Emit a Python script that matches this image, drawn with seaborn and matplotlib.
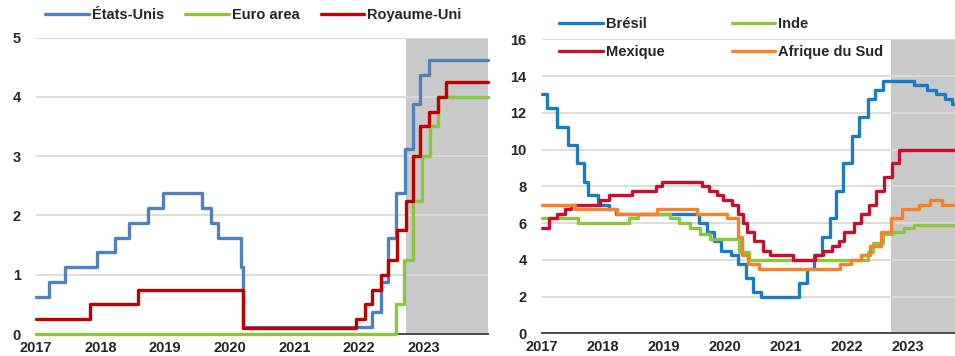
import matplotlib
matplotlib.use("Agg")
import matplotlib.pyplot as plt
import matplotlib.dates as mdates
from matplotlib.lines import Line2D
import pandas as pd
import seaborn as sns

# ---------------------------------------------------------------- data
# Policy rates (%), given as (date of change, new level); each level holds
# until the next change.
us_dates = ["2017-01-01", "2017-03-15", "2017-06-14", "2017-12-13", "2018-03-21",
            "2018-06-13", "2018-09-26", "2018-12-19", "2019-07-31", "2019-09-18",
            "2019-10-30", "2020-03-03", "2020-03-16", "2022-03-16", "2022-05-04",
            "2022-06-15", "2022-07-27", "2022-09-21", "2022-11-02", "2022-12-14",
            "2023-02-01"]
us_rates = [0.625, 0.875, 1.125, 1.375, 1.625, 1.875, 2.125, 2.375, 2.125, 1.875,
            1.625, 1.125, 0.125, 0.375, 0.875, 1.625, 2.375, 3.125, 3.875, 4.375,
            4.625]

ea_dates = ["2017-01-01", "2022-07-27", "2022-09-14", "2022-11-02", "2022-12-21",
            "2023-02-08", "2023-03-22"]
ea_rates = [0.0, 0.5, 1.25, 2.25, 3.0, 3.5, 4.0]

uk_dates = ["2017-01-01", "2017-11-02", "2018-08-02", "2020-03-15", "2021-12-16",
            "2022-02-03", "2022-03-17", "2022-05-05", "2022-06-16", "2022-08-04",
            "2022-09-22", "2022-11-03", "2022-12-15", "2023-02-02", "2023-03-23",
            "2023-05-11"]
uk_rates = [0.25, 0.5, 0.75, 0.1, 0.25, 0.5, 0.75, 1.0, 1.25, 1.75, 2.25, 3.0, 3.5,
            3.75, 4.0, 4.25]

br_dates = ["2017-01-01", "2017-02-01", "2017-04-01", "2017-06-05", "2017-08-01",
            "2017-09-10", "2017-10-05", "2017-12-01", "2018-02-07", "2018-03-21",
            "2019-07-31", "2019-09-18", "2019-10-30", "2019-12-11", "2020-02-05",
            "2020-03-18", "2020-05-06", "2020-06-17", "2020-08-05", "2021-03-17",
            "2021-05-05", "2021-06-16", "2021-08-04", "2021-09-22", "2021-10-27",
            "2021-12-08", "2022-02-02", "2022-03-16", "2022-05-04", "2022-06-15",
            "2022-08-03", "2023-02-03", "2023-04-22", "2023-06-20", "2023-08-10",
            "2023-09-20"]
br_rates = [13.0, 12.25, 11.25, 10.25, 9.25, 8.25, 7.5, 7.0, 6.75, 6.5,
            6.0, 5.5, 5.0, 4.5, 4.25, 3.75, 3.0, 2.25, 2.0, 2.75,
            3.5, 4.25, 5.25, 6.25, 7.75, 9.25, 10.75, 11.75, 12.75, 13.25,
            13.75, 13.5, 13.25, 13.0, 12.75, 12.5]

in_dates = ["2017-01-01", "2017-08-02", "2018-06-06", "2018-08-01", "2019-02-07",
            "2019-04-04", "2019-06-06", "2019-08-07", "2019-10-04", "2020-03-27",
            "2020-05-22", "2022-05-04", "2022-06-08", "2022-08-05", "2022-09-30",
            "2022-12-07", "2023-02-08"]
in_rates = [6.25, 6.0, 6.25, 6.5, 6.25, 6.0, 5.75, 5.4, 5.15, 4.4, 4.0, 4.4, 4.9,
            5.4, 5.5, 5.75, 5.9]

mx_dates = ["2017-01-01", "2017-02-09", "2017-03-30", "2017-05-18", "2017-06-22",
            "2017-12-14", "2018-02-08", "2018-06-21", "2018-11-15", "2018-12-20",
            "2019-08-15", "2019-09-26", "2019-11-14", "2019-12-19", "2020-02-13",
            "2020-03-20", "2020-04-21", "2020-05-14", "2020-06-25", "2020-08-13",
            "2020-09-24", "2021-02-11", "2021-06-24", "2021-08-12", "2021-09-30",
            "2021-11-11", "2021-12-16", "2022-02-10", "2022-03-24", "2022-05-12",
            "2022-06-23", "2022-08-11", "2022-09-29", "2022-11-10"]
mx_rates = [5.75, 6.25, 6.5, 6.75, 7.0, 7.25, 7.5, 7.75, 8.0, 8.25,
            8.0, 7.75, 7.5, 7.25, 7.0, 6.5, 6.0, 5.5, 5.0, 4.5,
            4.25, 4.0, 4.25, 4.5, 4.75, 5.0, 5.5, 6.0, 6.5, 7.0,
            7.75, 8.5, 9.25, 10.0]

za_dates = ["2017-01-01", "2017-07-20", "2018-03-28", "2018-11-22", "2019-07-18",
            "2020-01-16", "2020-03-19", "2020-04-14", "2020-05-21", "2020-07-23",
            "2021-11-18", "2022-01-27", "2022-03-24", "2022-05-19", "2022-07-21",
            "2022-09-22", "2022-11-24", "2023-03-10", "2023-05-10", "2023-07-25"]
za_rates = [7.0, 6.75, 6.5, 6.75, 6.5, 6.25, 5.25, 4.25, 3.75, 3.5,
            3.75, 4.0, 4.25, 4.75, 5.5, 6.25, 6.75, 7.0, 7.25, 7.0]

left_series = ["États-Unis", "Euro area", "Royaume-Uni"]
left_colors = ["#4f81bd", "#8cc63f", "#c00000"]
right_series = ["Brésil", "Inde", "Mexique", "Afrique du Sud"]
right_colors = ["#1a7dc4", "#8cc63f", "#c8102e", "#f4822a"]
year_ticks = ["2017", "2018", "2019", "2020", "2021", "2022", "2023"]

x_start, x_end = "2017-01-01", "2024-01-01"
outlook_start = "2022-09-24"


def long_frame(pairs):
    rows = []
    for name, dates, rates in pairs:
        d = list(pd.to_datetime(dates)) + [pd.Timestamp(x_end)]
        r = list(rates) + [rates[-1]]
        rows.append(pd.DataFrame({"date": d, "rate": r, "series": name}))
    return pd.concat(rows, ignore_index=True)


left_df = long_frame([("États-Unis", us_dates, us_rates),
                      ("Euro area", ea_dates, ea_rates),
                      ("Royaume-Uni", uk_dates, uk_rates)])
right_df = long_frame([("Brésil", br_dates, br_rates),
                       ("Inde", in_dates, in_rates),
                       ("Mexique", mx_dates, mx_rates),
                       ("Afrique du Sud", za_dates, za_rates)])

# ---------------------------------------------------------------- style
sns.set_theme(style="white")
plt.rcParams["font.family"] = ["Liberation Sans", "DejaVu Sans"]
plt.rcParams["font.weight"] = "bold"

W, H = 955, 356
fig = plt.figure(figsize=(W / 100, H / 100), dpi=100)


def px_axes(left, top, right, bottom):
    return fig.add_axes([left / W, 1 - bottom / H, (right - left) / W, (bottom - top) / H])


ax_l = px_axes(36, 37.5, 488, 334)
ax_r = px_axes(542, 39.3, 542 + 7 * 61.0, 333.3)

FS = 10.5


def style_axes(ax, ymax, ystep):
    ax.set_xlim(pd.Timestamp(x_start), pd.Timestamp(x_end))
    ax.set_ylim(0, ymax)
    ax.set_yticks(range(0, ymax + 1, ystep))
    ax.set_xticks(pd.to_datetime(year_ticks))
    ax.xaxis.set_major_formatter(mdates.DateFormatter("%Y"))
    ax.axvspan(pd.Timestamp(outlook_start), pd.Timestamp(x_end), color="#c9c9c9",
               lw=0, zorder=0.2)
    ax.set_axisbelow(True)
    ax.yaxis.grid(True, color="#dadada", lw=1.3)
    ax.xaxis.grid(False)
    for s in ("top", "right", "left"):
        ax.spines[s].set_visible(False)
    ax.spines["bottom"].set_color("#4a4a4a")
    ax.spines["bottom"].set_linewidth(1.4)
    ax.spines["bottom"].set_zorder(1)
    ax.tick_params(axis="x", direction="in", length=4, width=1.2, color="#4a4a4a",
                   pad=5, labelsize=FS)
    ax.tick_params(axis="y", length=0, pad=11, labelsize=FS)
    for lab in ax.get_xticklabels() + ax.get_yticklabels():
        lab.set_fontweight("bold")
    ax.set_xlabel("")
    ax.set_ylabel("")


for ax, df, order, cols, ymax, ystep in [
        (ax_l, left_df, left_series, left_colors, 5, 1),
        (ax_r, right_df, right_series, right_colors, 16, 2)]:
    sns.lineplot(data=df, x="date", y="rate", hue="series", hue_order=order,
                 palette=cols, drawstyle="steps-post", linewidth=2.4,
                 estimator=None, legend=False, ax=ax, zorder=3)
    for line in ax.lines:
        line.set_clip_on(False)
    style_axes(ax, ymax, ystep)

# ---------------------------------------------------------------- legends
def handles(colors, lw=2.4):
    return [Line2D([0], [0], color=c, lw=lw) for c in colors]


fig.legend(handles(left_colors), left_series, loc="upper left",
           bbox_to_anchor=(45 / W, 1 - 8 / H), ncol=3, frameon=False,
           handlelength=3.0, handletextpad=0.2, columnspacing=1.45,
           borderpad=0, borderaxespad=0, prop={"size": FS, "weight": "bold"})

order_r = [0, 2, 1, 3]
fig.legend([handles(right_colors)[i] for i in order_r],
           [right_series[i] for i in order_r], loc="upper left",
           bbox_to_anchor=(559 / W, 1 - 17 / H), ncol=2, frameon=False,
           handlelength=3.0, handletextpad=0.2, columnspacing=4.6,
           labelspacing=0.95, borderpad=0, borderaxespad=0,
           prop={"size": FS, "weight": "bold"})

fig.savefig("out.png", dpi=100)
